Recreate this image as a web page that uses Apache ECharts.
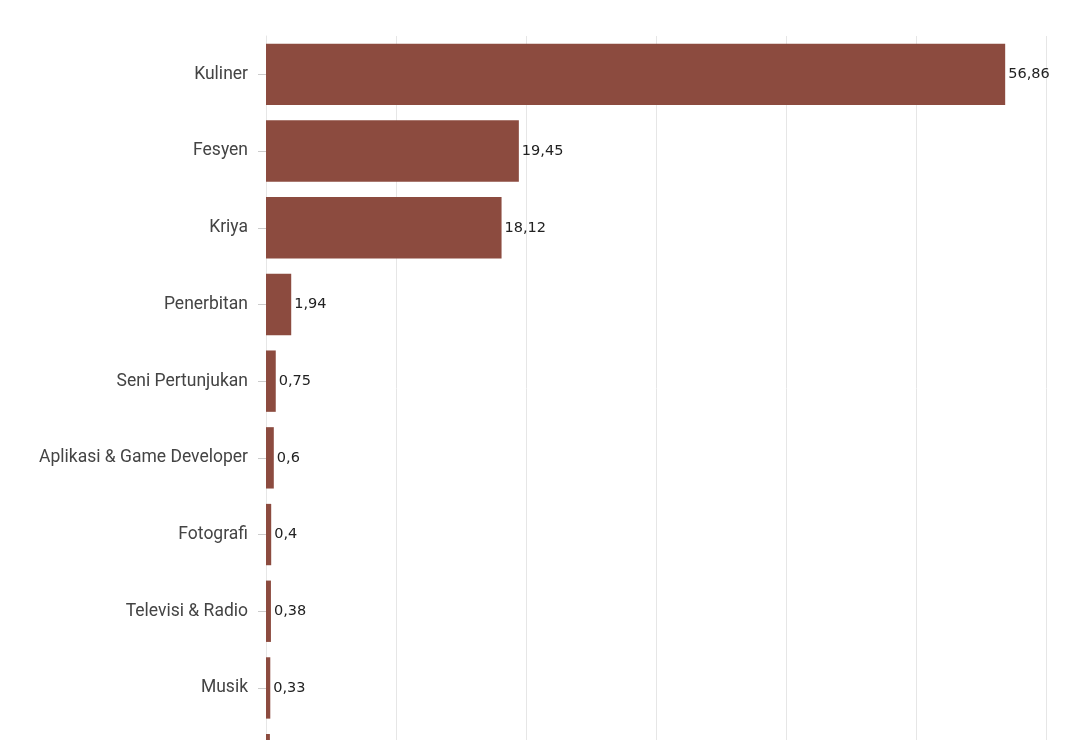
<!DOCTYPE html>
<html>
<head>
<meta charset="utf-8">
<script src="https://cdn.jsdelivr.net/npm/echarts@6/dist/echarts.min.js"></script>
<style>
html,body{margin:0;padding:0;background:#fff;}
#chart{width:1066px;height:740px;}
</style>
</head>
<body>
<div id="chart"></div>
<script>
const categories = ["Kuliner","Fesyen","Kriya","Penerbitan","Seni Pertunjukan","Aplikasi & Game Developer","Fotografi","Televisi & Radio","Musik","Arsitektur"];
const values = [56.86,19.45,18.12,1.94,0.75,0.6,0.4,0.38,0.33,0.3];
const xTicks = [0,10,20,30,40,50,60];

const chart = echarts.init(document.getElementById('chart'));
chart.setOption({
  animation:false,
  backgroundColor:'#ffffff',
  grid:{left:266,right:20,top:36,height:767,containLabel:false,outerBoundsMode:'none'},
  xAxis:{
    type:'value',min:xTicks[0],max:xTicks[xTicks.length-1],interval:10,
    axisLabel:{show:false},axisLine:{show:false},axisTick:{show:false},
    splitLine:{show:true,lineStyle:{color:'#e6e6e6',width:1}}
  },
  yAxis:{
    type:'category',data:categories,inverse:true,
    axisLine:{show:true,lineStyle:{color:'#e6e6e6'}},
    axisTick:{show:true,alignWithLabel:true,length:8,lineStyle:{color:'#cccccc'}},
    axisLabel:{color:'#444',fontFamily:'Roboto',fontSize:17.5,margin:18}
  },
  series:[{
    type:'bar',data:values,barCategoryGap:'20%',
    itemStyle:{color:'#8c4b3f'},
    label:{show:true,position:'right',distance:3,color:'#222',fontFamily:'DejaVu Sans',fontSize:14.5,
      formatter:p=>String(p.value).replace('.',',')}
  }]
});
</script>
</body>
</html>
